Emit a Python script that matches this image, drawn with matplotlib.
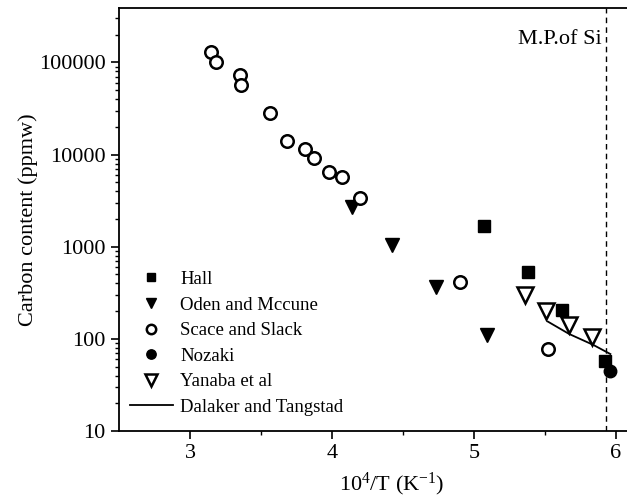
import matplotlib.pyplot as plt
import numpy as np

plt.rcParams['font.family'] = ['Liberation Serif', 'DejaVu Serif']
plt.rcParams['mathtext.default'] = 'regular'

# data: x = 10^4/T (1/K), y = carbon content (ppmw)
hall_x = [5.07, 5.38, 5.62, 5.92]
hall_y = [1680, 528, 205, 58]

oden_x = [4.14, 4.42, 4.73, 5.09]
oden_y = [2700, 1050, 363, 110]

scace_x = [3.15, 3.18, 3.35, 3.36, 3.56, 3.68, 3.81, 3.87, 3.98, 4.07, 4.20, 4.90, 5.52]
scace_y = [131000, 102000, 73300, 57100, 28600, 14100, 11500, 9270, 6440, 5770, 3410, 412, 77.6]

nozaki_x = [5.96]
nozaki_y = [45]

yanaba_x = [5.36, 5.51, 5.67, 5.83]
yanaba_y = [296, 201, 143, 105]

dalaker_x = [5.52, 5.67, 5.84, 5.96]
dalaker_y = [154, 113, 86, 68.5]

mp_si = 5.93

fig = plt.figure(figsize=(6.27, 5.03), dpi=100)
ax = fig.add_axes([119/627, 1-431/503, (627-119)/627, (431-8)/503])

ms = 8
ax.plot(hall_x, hall_y, 's', color='black', ms=ms, label='Hall')
ax.plot(oden_x, oden_y, 'v', color='black', ms=ms+2, label='Oden and Mccune')
ax.plot(scace_x, scace_y, 'o', mfc='white', mec='black', mew=1.8, ms=ms+1, label='Scace and Slack')
ax.plot(nozaki_x, nozaki_y, 'o', color='black', ms=ms+1, label='Nozaki')
ax.plot(yanaba_x, yanaba_y, 'v', mfc='white', mec='black', mew=1.8, ms=ms+3, label='Yanaba et al')
ax.plot(dalaker_x, dalaker_y, '-', color='black', lw=1.3, label='Dalaker and Tangstad')

ax.axvline(mp_si, color='black', ls=(0, (4, 3)), lw=1)
ax.text(mp_si - 0.03, 1.76e5, 'M.P.of Si', ha='right', va='center', fontsize=16)

ax.set_yscale('log')
ax.set_xlim(2.5, 2.5 + (627-119)/142)
ax.set_ylim(10, 3.9e5)
ax.set_xticks([3, 4, 5, 6])
ax.set_xticks([3.5, 4.5, 5.5], minor=True)
ax.set_yticks([10, 100, 1000, 10000, 100000])
ax.set_yticklabels(['10', '100', '1000', '10000', '100000'])
ax.tick_params(which='major', direction='out', length=6, width=1.2, labelsize=16)
ax.tick_params(which='minor', direction='out', length=3, width=1)
ax.spines['right'].set_visible(False)
for s in ['left', 'bottom', 'top']:
    ax.spines[s].set_linewidth(1.3)

ax.set_xlabel('10$^{4}$/T (K$^{-1}$)', fontsize=16)
ax.xaxis.set_label_coords((392-119)/508, -0.093)
ax.set_ylabel('Carbon content (ppmw)', fontsize=16)
ax.yaxis.set_label_coords(-0.16, 0.5)

ax.legend(loc='lower left', bbox_to_anchor=(-0.005, 0.005), frameon=False, fontsize=13.5,
          markerscale=0.75, handlelength=2.3, handletextpad=0.4, labelspacing=0.45,
          borderaxespad=0.3)

fig.savefig('out.png', dpi=100)
